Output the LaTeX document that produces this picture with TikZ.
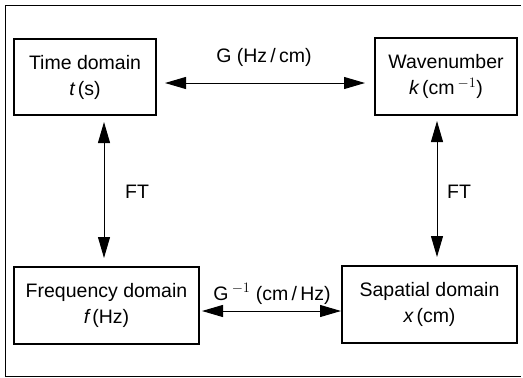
\documentclass[tikz,border=0pt]{standalone}
\usepackage{fontspec}
\setmainfont{Liberation Sans}
\usetikzlibrary{arrows.meta}
\begin{document}
\begin{tikzpicture}[x=1pt,y=-1pt,
  box/.style={draw,line width=1.1pt,inner sep=0pt},
  lbl/.style={font=\fontsize{19.5}{26}\selectfont,align=center,inner sep=0pt},
  conn/.style={line width=1pt,{Triangle[length=21pt,width=12pt]}-{Triangle[length=21pt,width=12pt]}}]
\useasboundingbox (0,0) rectangle (523,378);
\draw[line width=1pt] (5,5) -- (521,5);
\draw[line width=1pt] (5,5) -- (5,376) -- (521,376);
\node[box,minimum width=142pt,minimum height=76pt] (t) at (85,77) {};
\node[lbl] at (t.center) {Time domain\\\itshape t\upshape\,(s)};
\node[box,minimum width=142pt,minimum height=77pt] (k) at (446,76.5) {};
\node[lbl] at (k.center) {Wavenumber\\\itshape k\upshape\,(cm\,$^{-1}$)};
\node[box,minimum width=185pt,minimum height=77pt] (f) at (106.5,305.5) {};
\node[lbl] at (f.center) {Frequency domain\\\itshape f\upshape\,(Hz)};
\node[box,minimum width=175pt,minimum height=77pt] (x) at (429.5,304.5) {};
\node[lbl] at (x.center) {Sapatial domain\\\itshape x\upshape\,(cm)};
\coordinate (tl) at (165,83);
\coordinate (kr) at (365,83);
\coordinate (tb) at (104,122);
\coordinate (fb) at (104,258);
\coordinate (kb) at (437,121);
\coordinate (xb) at (437,257);
\coordinate (fr) at (202,311);
\coordinate (xl) at (341,311);
\draw[conn] (tl) -- (kr);
\draw[conn] (tb) -- (fb);
\draw[conn] (kb) -- (xb);
\draw[conn] (fr) -- (xl);
\node[lbl] (g) at (264,57) {G (Hz\,/\,cm)};
\node[lbl] (ft1) at (137,192) {FT};
\node[lbl] (ft2) at (459,192) {FT};
\node[lbl] (gi) at (272,294) {G\,$^{-1}$ (cm\,/\,Hz)};
\end{tikzpicture}
\end{document}
